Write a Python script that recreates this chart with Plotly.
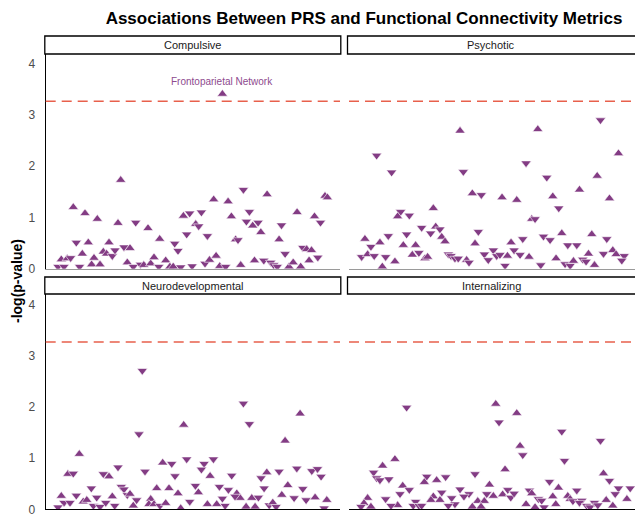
import plotly.graph_objects as go
from plotly.subplots import make_subplots

# metric index (x), -log(p) (y), direction of effect (u = positive, d = negative)
compulsive_idx = [25, 9.2, 13.1, 17.2, 24.1, 30, 34.1, 38, 43, 44.1, 47, 45.9, 48, 51.9, 50, 51, 53.9, 56,
                  60.8, 65.9, 61.9, 67.9, 66.9, 69, 70.8, 71.7, 73.8, 63.3, 64.1, 78.6, 77.8, 79.8, 83.8,
                  89.6, 91.6, 93.1, 93.9, 85.7, 87, 88.6, 90.7, 87.8, 85, 10.2, 14.2, 21.1, 12.2, 19.2, 20.3,
                  22.2, 23.1, 26.1, 28.1, 16.1, 5.2, 7.2, 8.3, 4.1, 6.1, 11.3, 15.3, 18.1, 27.2, 29.2, 31.6,
                  32.7, 35, 36.1, 37.7, 40, 41.4, 42.5, 45, 48.8, 53.1, 54.6, 56.8, 58, 60, 65, 69.6, 72.7,
                  75, 76, 77.2, 81.1, 82.5, 58.9]
compulsive_logp = [1.73, 1.20, 1.08, 0.97, 0.89, 0.90, 0.79, 0.58, 0.49, 0.35, 0.67, 1.03, 1.08, 1.10, 0.87,
                   0.83, 0.64, 1.35, 1.31, 1.54, 1.02, 1.11, 0.92, 0.84, 0.90, 0.71, 1.45, 0.57, 0.56, 0.85,
                   0.57, 0.29, 1.10, 1.02, 0.90, 1.42, 1.39, 0.41, 0.38, 0.36, 0.22, 0.16, 0.04, 0.51, 0.51,
                   0.51, 0.29, 0.33, 0.29, 0.25, 0.36, 0.42, 0.40, 0.21, 0.18, 0.20, 0.21, 0.04, 0.04, 0.04,
                   0.08, 0.08, 0.12, 0.04, 0.08, 0.07, 0.10, 0.22, 0.04, 0.16, 0.04, 0.04, 0.03, 0.05, 0.10,
                   0.17, 0.25, 0.05, 0.04, 0.07, 0.16, 0.16, 0.12, 0.07, 0.04, 0.04, 0.12, 3.41]
compulsive_dir = list("uuuuuduuddduddudduududduduuudduduuduuduuduuduuuuuddduuuudddduuudduuuduuuddduuuduudddduuudddduu")

psychotic_idx = [9.2, 14.2, 37, 38.1, 62.9, 83.8, 89.8, 59, 65.9, 82.7, 41.1, 44.1, 51, 55.9, 67.9, 69.9, 76.8,
                 86.8, 28.1, 17.2, 20.1, 16.2, 60.9, 62, 5.3, 13.1, 7.3, 10.3, 18.1, 19.2, 24.2, 28.9, 30.3,
                 27.2, 30.9, 32, 22.2, 21.1, 23.3, 12.2, 15.3, 4.2, 6.2, 8.4, 11.1, 25.3, 26.2, 33.1, 34, 35.3,
                 36.4, 39.2, 40, 43.1, 42, 45.1, 46.4, 48.1, 54, 57.9, 55, 49.2, 50.3, 52.8, 57, 60, 52, 64.8,
                 67, 70.9, 72.9, 75.9, 69, 63.9, 72, 73.7, 74.8, 77.9, 79, 79.8, 81.8, 80.9, 85.9, 84.8, 87.9,
                 89, 91.7, 90.9, 92.8, 93.9]
psychotic_logp = [2.21, 1.88, 2.69, 1.89, 2.72, 2.90, 2.25, 2.06, 1.78, 1.81, 1.47, 1.44, 1.39, 1.34, 1.41, 1.18,
                  1.54, 1.37, 1.18, 1.11, 1.04, 1.02, 0.97, 0.97, 0.58, 0.64, 0.43, 0.51, 0.46, 0.67, 0.80, 0.82,
                  0.77, 0.69, 0.62, 0.53, 0.46, 0.27, 0.31, 0.23, 0.14, 0.23, 0.28, 0.25, 0.04, 0.20, 0.23, 0.28,
                  0.25, 0.20, 0.20, 0.17, 0.12, 0.72, 0.49, 0.28, 0.17, 0.36, 0.51, 0.58, 0.36, 0.25, 0.27, 0.25,
                  0.27, 0.23, 0.06, 0.63, 0.56, 0.69, 0.46, 0.46, 0.20, 0.07, 0.09, 0.06, 0.15, 0.18, 0.14, 0.29,
                  0.07, 0.67, 0.58, 0.29, 0.36, 0.28, 0.25, 0.16, 0.72, 0.74]
psychotic_dir = list("ddudududduuduuuduuudduududduuddudduuuuddududuuuddddudduddduddddududdduddudddudduuudduudd")

neuro_idx = [32.2, 31.1, 33.1, 46, 65.9, 67.9, 84.8, 79.8, 11.2, 47, 55.9, 52.8, 51.9, 39, 42, 43.1, 54.8, 24.1,
             7.4, 9.2, 19.2, 21.1, 62, 71.8, 73.7, 77.8, 83.7, 88.7, 90.6, 91.8, 25.2, 26.1, 27.2, 28.1, 15.2,
             37, 41.1, 44.1, 5.2, 10.2, 6.1, 8.1, 12.5, 13.7, 17, 15.9, 18.1, 20, 22.2, 23, 29.2, 30.3, 35,
             34.4, 36.1, 38.1, 40, 4.1, 45, 48, 49.9, 50.9, 57.9, 60.9, 63.7, 64.8, 63.1, 58.9, 59.8, 53.9, 57,
             68.7, 70.9, 66.8, 69.8, 72.8, 80.7, 78.7, 82.8, 85.7, 86.8, 89.8, 93.7, 92.8, 74.5, 75.7, 76.8,
             81.8, 87.9]
neuro_logp = [2.71, 1.47, 0.74, 1.65, 2.07, 1.67, 1.87, 1.34, 1.08, 0.98, 0.98, 0.89, 0.78, 0.91, 0.89, 0.65,
              0.65, 0.82, 0.69, 0.70, 0.69, 0.64, 0.66, 0.61, 0.72, 0.74, 0.80, 0.75, 0.79, 0.64, 0.44, 0.39,
              0.28, 0.30, 0.41, 0.41, 0.41, 0.31, 0.26, 0.27, 0.13, 0.13, 0.15, 0.18, 0.23, 0.07, 0.05, 0.13,
              0.25, 0.07, 0.07, 0.18, 0.20, 0.10, 0.10, 0.07, 0.12, 0.04, 0.02, 0.15, 0.46, 0.33, 0.44, 0.38,
              0.31, 0.22, 0.25, 0.21, 0.07, 0.10, 0.10, 0.22, 0.23, 0.05, 0.05, 0.41, 0.47, 0.28, 0.22, 0.40,
              0.18, 0.23, 0.18, 0.02, 0.08, 0.13, 0.05, 0.05, 0.07]
neuro_dir = list("dddudduuudddduddududduddudddddddduduuuuddduuddddududuuudududdudduuddduuuduuduuddduuddud")

internal_idx = [19.2, 48.9, 50, 55.9, 57, 57.9, 70.9, 83.8, 71.8, 52, 15.3, 11.2, 8.2, 9.2, 10.3, 13.3, 25.9,
                25.1, 29.2, 32.2, 42, 84.8, 86.8, 89.8, 88.7, 93.7, 92.6, 17.9, 20.1, 17, 46.8, 37, 40, 38.3,
                30.9, 28.1, 27.3, 30.3, 34.2, 35.3, 33.1, 42.9, 45.1, 45.9, 41.1, 44, 6.2, 5, 4, 7.3, 12.2,
                16.2, 14, 22.2, 21.4, 23.3, 24.2, 66.8, 69.8, 48.1, 51.2, 52.9, 53.9, 55, 60.1, 60.9, 59, 62,
                63.1, 64.2, 65, 67.9, 68.9, 72.9, 73.7, 75.9, 74.6, 77.6, 76.8, 79.2, 80.3, 81.8, 82.9, 85.7,
                87.9, 90.9]
internal_logp = [1.99, 2.06, 1.70, 1.88, 1.24, 1.06, 1.52, 1.34, 0.95, 0.78, 0.98, 0.85, 0.72, 0.61, 0.57, 0.59,
                 0.64, 0.53, 0.57, 0.63, 0.69, 0.70, 0.56, 0.41, 0.30, 0.41, 0.20, 0.46, 0.38, 0.30, 0.48, 0.39,
                 0.30, 0.25, 0.33, 0.25, 0.18, 0.18, 0.22, 0.10, 0.07, 0.16, 0.16, 0.30, 0.05, 0.05, 0.22, 0.12,
                 0.05, 0.05, 0.20, 0.08, 0.07, 0.15, 0.07, 0.07, 0.07, 0.54, 0.42, 0.26, 0.29, 0.38, 0.23, 0.31,
                 0.37, 0.31, 0.10, 0.04, 0.20, 0.17, 0.04, 0.25, 0.10, 0.26, 0.20, 0.37, 0.16, 0.17, 0.13, 0.07,
                 0.04, 0.13, 0.08, 0.18, 0.07, 0.07]
internal_dir = list("duduudddduuuddddduuddudddduuddudddduuuddduuduuuudududddddduuudddduuuddduuuudddddddduu")

panels = ["Compulsive", "Psychotic", "Neurodevelopmental", "Internalizing"]
threshold = 3.27
top_hit = "Frontoparietal Network"

POINT = "#833C84"
W, H = 635, 514


def px_x(p):
    return p / W


def px_y(p):
    return 1 - p / H


fig = make_subplots(rows=2, cols=2)

series = [
    (compulsive_idx, compulsive_logp, compulsive_dir, 1, 1),
    (psychotic_idx, psychotic_logp, psychotic_dir, 1, 2),
    (neuro_idx, neuro_logp, neuro_dir, 2, 1),
    (internal_idx, internal_logp, internal_dir, 2, 2),
]
for xs, ys, ds, r, c in series:
    n = min(len(xs), len(ys), len(ds))
    fig.add_trace(
        go.Scatter(
            x=xs[:n], y=ys[:n], mode="markers",
            marker=dict(
                symbol=["triangle-up" if d == "u" else "triangle-down" for d in ds[:n]],
                size=9, color=POINT, line=dict(width=0.6, color="white")
            ),
            showlegend=False,
        ),
        row=r, col=c
    )

# domains (pixel measured)
left_dom = [px_x(45.7), px_x(340)]
right_dom = [px_x(349), 1.0]
top_dom = [px_y(268.7), px_y(54)]
bot_dom = [px_y(509.3), px_y(294)]

for r, c, xd, yd, xr in [(1, 1, left_dom, top_dom, 98.1), (1, 2, right_dom, top_dom, 95.3),
                          (2, 1, left_dom, bot_dom, 98.1), (2, 2, right_dom, bot_dom, 95.3)]:
    fig.update_xaxes(domain=xd, range=[0, xr], showticklabels=False, showgrid=False, zeroline=False,
                     showline=True, linecolor="#9a9a9a" if r == 1 else "black", linewidth=1.3,
                     ticks="", automargin=False, row=r, col=c)
    fig.update_yaxes(domain=yd, range=[0, 4.19 if r == 1 else 4.21], tickvals=[0, 1, 2, 3, 4],
                     showgrid=False, zeroline=False, showticklabels=(c == 1),
                     showline=(c == 1), linecolor="black", linewidth=1.3, ticks="",
                     ticklabelstandoff=7, automargin=False, ticklabeloverflow="allow",
                     tickfont=dict(family="Liberation Sans", size=12, color="#4d4d4d"),
                     row=r, col=c)

fig.add_hline(y=threshold, line=dict(color="#E8604C", width=1.5, dash="10px,6px"), row="all", col="all")

# facet strips
strips = [
    (panels[0], 44.8, 340.8, 36, 54),
    (panels[1], 347.5, 645, 36, 54),
    (panels[2], 44.8, 340.8, 277, 294),
    (panels[3], 347.5, 645, 277, 294),
]
for label, x0, x1, y0, y1 in strips:
    fig.add_shape(type="rect", xref="paper", yref="paper",
                  x0=px_x(x0), x1=px_x(x1), y0=px_y(y1), y1=px_y(y0),
                  line=dict(color="black", width=1.3), fillcolor="white", layer="above")
    fig.add_annotation(text=label, xref="paper", yref="paper",
                       x=px_x((x0 + x1) / 2 if x1 < 635 else 491), y=px_y((y0 + y1) / 2),
                       showarrow=False, xanchor="center", yanchor="middle",
                       font=dict(family="Liberation Sans", size=11, color="#1a1a1a"))

# label for the significant point
fig.add_annotation(x=compulsive_idx[-1], y=compulsive_logp[-1], xref="x", yref="y",
                   text=top_hit, showarrow=False, yanchor="bottom", yshift=5,
                   font=dict(family="Liberation Sans", size=10, color="#8E4A8E"))

fig.add_annotation(text="<b>-log(p-value)</b>", xref="paper", yref="paper",
                   x=px_x(17), y=px_y(281), textangle=-90, showarrow=False,
                   xanchor="center", yanchor="middle",
                   font=dict(family="Liberation Sans", size=14, color="black"))

fig.update_layout(
    width=W, height=H, autosize=False,
    margin=dict(l=0, r=0, t=0, b=0),
    paper_bgcolor="white", plot_bgcolor="white",
    title=dict(text="<b>Associations Between PRS and Functional Connectivity Metrics</b>",
               x=px_x(364), y=px_y(18), xanchor="center", yanchor="middle",
               font=dict(family="Liberation Sans", size=17, color="black")),
)

# the page's default body margin would push the figure 8px right and down
fig.write_html("out.html", config={"displayModeBar": False},
               post_script="document.body.style.margin='0';")
